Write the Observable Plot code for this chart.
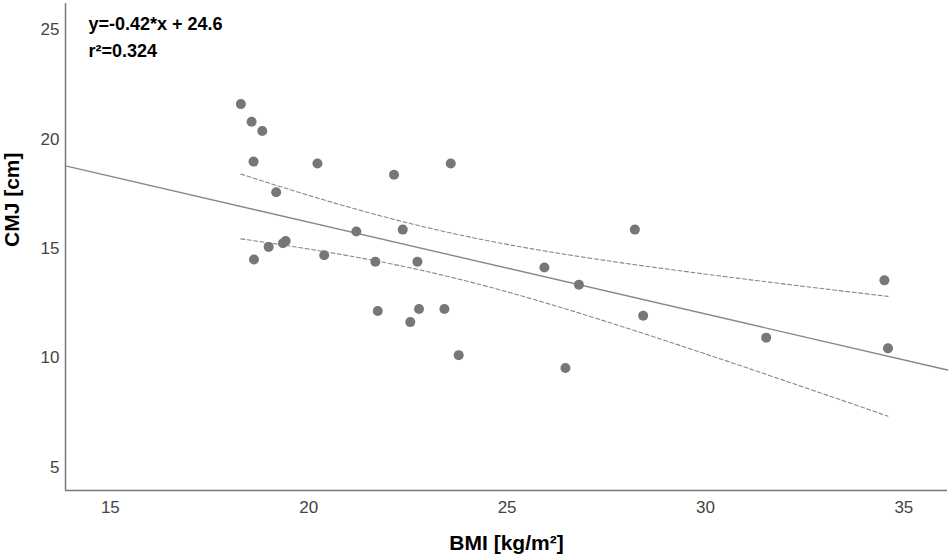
<!DOCTYPE html>
<html>
<head>
<meta charset="utf-8">
<script src="https://cdn.jsdelivr.net/npm/d3@7"></script>
<script src="https://cdn.jsdelivr.net/npm/@observablehq/plot@0.6"></script>
<style>
  html, body { margin: 0; padding: 0; background: #fff; }
</style>
</head>
<body>
<div id="chart"></div>
<script>
// BMI values (x) and CMJ values (y)
const bmi = [18.29, 18.56, 18.83, 18.61, 20.22, 22.15, 23.58, 19.18, 21.20, 22.37,
             18.99, 19.35, 19.42, 18.62, 20.39, 21.68, 22.74, 21.74, 22.78, 23.42,
             22.56, 23.78, 28.22, 25.94, 26.81, 28.43, 26.47, 34.51, 31.53, 34.60];
const cmj = [21.60, 20.79, 20.37, 18.97, 18.88, 18.37, 18.88, 17.57, 15.77, 15.86,
             15.07, 15.24, 15.34, 14.49, 14.69, 14.39, 14.39, 12.14, 12.23, 12.23,
             11.63, 10.12, 15.86, 14.13, 13.34, 11.92, 9.53, 13.54, 10.92, 10.43];
const xTicks = [15, 20, 25, 30, 35];
const yTicks = [5, 10, 15, 20, 25];
const xDomain = [13.87, 36.1];
const yDomain = [3.93, 26.2];
// fit reported in the chart
const slope = -0.42;
const intercept = 24.6;
const annotation = ["y=-0.42*x + 24.6", "r²=0.324"];
const xTitle = ["BMI [kg/m²]"];
const yTitle = ["CMJ [cm]"];

const data = bmi.map((x, i) => ({x, y: cmj[i]}));

// 95% confidence band of the mean around the reported fit
const n = data.length;
const mx = d3.mean(bmi);
const sxx = d3.sum(bmi, v => (v - mx) ** 2);
const sse = d3.sum(data, d => (d.y - (intercept + slope * d.x)) ** 2);
const s = Math.sqrt(sse / (n - 2));
const tCrit = 2.048; // t(0.975, df=28)
const fitLine = xDomain.map(x => ({x, y: intercept + slope * x}));
const [xmin, xmax] = d3.extent(bmi);
const band = d3.range(0, 61).map(i => {
  const x = xmin + (xmax - xmin) * i / 60;
  const yh = intercept + slope * x;
  const se = s * Math.sqrt(1 / n + (x - mx) ** 2 / sxx);
  return {x, lo: yh - tCrit * se, hi: yh + tCrit * se};
});

const font = "'Liberation Sans', Arial, sans-serif";

const chart = Plot.plot({
  width: 950,
  height: 558,
  marginLeft: 65,
  marginRight: 3,
  marginTop: 3,
  marginBottom: 68,
  style: {fontFamily: font, fontSize: "17px", color: "#444", background: "#fff"},
  x: {domain: xDomain, ticks: xTicks},
  y: {domain: yDomain, ticks: yTicks},
  marks: [
    Plot.axisX({ticks: xTicks, tickSize: 0, tickPadding: 10, label: null, fontSize: 17}),
    Plot.axisY({ticks: yTicks, tickSize: 0, tickPadding: 6, label: null, fontSize: 17}),
    Plot.ruleX([xDomain[0]], {stroke: "#777", strokeWidth: 1.5}),
    Plot.ruleY([yDomain[0]], {stroke: "#777", strokeWidth: 1.5}),
    Plot.line(fitLine, {x: "x", y: "y", stroke: "#888", strokeWidth: 1.4}),
    Plot.line(band, {x: "x", y: "hi", stroke: "#888", strokeWidth: 1.1, strokeDasharray: "4,2.5"}),
    Plot.line(band, {x: "x", y: "lo", stroke: "#888", strokeWidth: 1.1, strokeDasharray: "4,2.5"}),
    Plot.dot(data, {x: "x", y: "y", r: 5, fill: "#777", stroke: null}),
    Plot.text([annotation[0]], {frameAnchor: "top-left", textAnchor: "start", lineAnchor: "top",
      dx: 23, dy: 13.5, text: d => d, fontSize: 18, fontWeight: "bold", fill: "#000"}),
    Plot.text([annotation[1]], {frameAnchor: "top-left", textAnchor: "start", lineAnchor: "top",
      dx: 23, dy: 41, text: d => d, fontSize: 18, fontWeight: "bold", fill: "#000"}),
    Plot.text(xTitle, {frameAnchor: "bottom", lineAnchor: "middle", dy: 53, text: d => d,
      fontSize: 21, fontWeight: "bold", fill: "#000"}),
    Plot.text(yTitle, {frameAnchor: "left", lineAnchor: "middle", rotate: -90, dx: -53, dy: 0,
      text: d => d, fontSize: 21, fontWeight: "bold", fill: "#000"})
  ]
});
document.getElementById("chart").appendChild(chart);
</script>
</body>
</html>
